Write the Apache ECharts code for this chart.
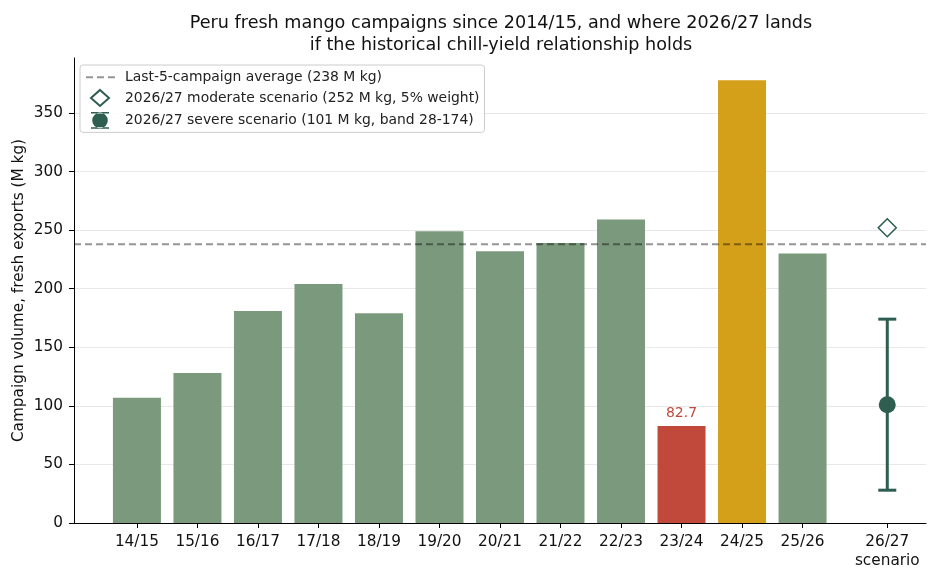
<!DOCTYPE html>
<html lang="en">

<head>
  <meta charset="UTF-8">
  <script type="text/javascript" src="https://cdn.jsdelivr.net/npm/echarts@6/dist/echarts.min.js"></script>
  <title>Peru mango campaigns</title>
  <style>
    html,
    body {
      margin: 0;
      background: #fff;
    }

    #chart {
      width: 936px;
      height: 582px;
    }
  </style>
</head>

<body>
  <div id="chart"></div>

  <script type="text/javascript">
    // campaign data (M kg)
    var campaigns = ['14/15', '15/16', '16/17', '17/18', '18/19', '19/20', '20/21', '21/22', '22/23', '23/24', '24/25', '25/26'];
    var volumes = [107, 128, 181, 204, 179, 249, 232, 239, 259, 82.7, 378, 230];
    var lowYear = '23/24';
    var highYear = '24/25';

    var avgLast5 = 238;
    var scenarioX = 12.4;
    var scenarioLabel = '26/27\nscenario';
    var moderate = 252;
    var severe = 101;
    var severeBand = [28, 174];

    var GREEN = '#7b9a7d';
    var RED = '#c0493b';
    var GOLD = '#d4a01a';
    var DARK = '#2d5e4f';

    var X_MIN = -1.04, X_MAX = 13.04;

    var NAME_AVG = 'Last-5-campaign average (238 M kg)';
    var NAME_MOD = '2026/27 moderate scenario (252 M kg, 5% weight)';
    var NAME_SEV = '2026/27 severe scenario (101 M kg, band 28-174)';

    var dom = document.getElementById('chart');
    var myChart = echarts.init(dom, null, { renderer: 'canvas' });

    var barData = campaigns.map(function (c, i) {
      var item = { value: [i, volumes[i]] };
      if (c === lowYear) {
        item.itemStyle = { color: RED };
        item.label = {
          show: true, position: 'top', distance: 6, color: RED, fontSize: 14,
          formatter: function (p) { return p.value[1].toFixed(1); }
        };
      } else if (c === highYear) {
        item.itemStyle = { color: GOLD };
      }
      return item;
    });

    var tickPositions = campaigns.map(function (c, i) { return i; }).concat([scenarioX]);
    function xLabel(v) {
      if (Math.abs(v - scenarioX) < 1e-6) return scenarioLabel;
      return campaigns[Math.round(v)];
    }

    var option = {
      animation: false,
      textStyle: { fontFamily: 'DejaVu Sans' },
      title: {
        text: 'Peru fresh mango campaigns since 2014/15, and where 2026/27 lands\nif the historical chill-yield relationship holds',
        left: 496,
        top: 7,
        textAlign: 'center',
        textStyle: { fontSize: 17.6, fontWeight: 'normal', color: '#111', lineHeight: 22, fontFamily: 'DejaVu Sans' }
      },
      legend: {
        orient: 'vertical',
        left: 80,
        top: 65,
        padding: [5, 5, 3, 5],
        itemGap: 3.5,
        itemWidth: 32,
        itemHeight: 18,
        borderColor: '#cccccc',
        borderWidth: 1,
        borderRadius: 3,
        backgroundColor: 'rgba(255,255,255,0.85)',
        textStyle: { fontSize: 13.9, color: '#222', fontFamily: 'DejaVu Sans', padding: [0, 0, 0, 2] },
        data: [
          { name: NAME_AVG, itemStyle: { opacity: 0 } },
          { name: NAME_MOD, icon: 'path://M0,0M32,18M14,1L23,9L14,17L5,9Z' },
          { name: NAME_SEV, icon: 'path://M0,0M32,18M5,0.6h18v1.6h-18zM5,15.8h18v1.6h-18zM14,1.2a7.8,7.8 0 1,0 0.01,0z' }
        ]
      },
      grid: { left: 74, right: 10, top: 58, bottom: 59 },
      xAxis: {
        type: 'value',
        min: X_MIN,
        max: X_MAX,
        splitLine: { show: false },
        axisLine: { show: true, onZero: false, lineStyle: { color: '#000', width: 1 } },
        axisTick: { show: true, customValues: tickPositions, length: 5, lineStyle: { color: '#000' } },
        axisLabel: {
          customValues: tickPositions, formatter: xLabel, color: '#111', fontSize: 15.3,
          margin: 10, lineHeight: 19, showMinLabel: true, showMaxLabel: true
        }
      },
      yAxis: {
        type: 'value',
        min: 0,
        max: 396.9,
        interval: 50,
        name: 'Campaign volume, fresh exports (M kg)',
        nameLocation: 'middle',
        nameGap: 47,
        nameMoveOverlap: false,
        nameTextStyle: { fontSize: 15.3, color: '#111' },
        axisLine: { show: true, onZero: false, lineStyle: { color: '#000', width: 1 } },
        axisTick: { show: true, length: 5, lineStyle: { color: '#000' } },
        axisLabel: { color: '#111', fontSize: 15.3, margin: 11, showMaxLabel: false },
        splitLine: { show: true, showMaxLine: false, lineStyle: { color: '#e8e8e8', width: 1 } }
      },
      series: [
        {
          type: 'bar',
          name: 'campaigns',
          data: barData,
          barWidth: 48,
          itemStyle: { color: GREEN },
          z: 2
        },
        {
          type: 'line',
          name: NAME_AVG,
          data: [[X_MIN, avgLast5], [X_MAX, avgLast5]],
          symbol: 'none',
          lineStyle: { color: 'rgba(0,0,0,0.42)', width: 2, type: [7, 4] },
          itemStyle: { color: 'rgba(0,0,0,0.42)' },
          z: 4,
          silent: true
        },
        {
          type: 'custom',
          name: 'band',
          data: [[scenarioX, severeBand[0], severeBand[1]]],
          renderItem: function (params, api) {
            var lo = api.coord([api.value(0), api.value(1)]);
            var hi = api.coord([api.value(0), api.value(2)]);
            var cap = 9;
            var style = { stroke: DARK, lineWidth: 3 };
            return {
              type: 'group',
              children: [
                { type: 'line', shape: { x1: lo[0], y1: lo[1], x2: hi[0], y2: hi[1] }, style: style },
                { type: 'line', shape: { x1: lo[0] - cap, y1: lo[1], x2: lo[0] + cap, y2: lo[1] }, style: style },
                { type: 'line', shape: { x1: hi[0] - cap, y1: hi[1], x2: hi[0] + cap, y2: hi[1] }, style: style }
              ]
            };
          },
          z: 5
        },
        {
          type: 'scatter',
          name: NAME_MOD,
          data: [[scenarioX, moderate]],
          symbol: 'diamond',
          symbolSize: [18, 18],
          itemStyle: { color: '#fff', borderColor: DARK, borderWidth: 1.5, opacity: 1 },
          z: 6
        },
        {
          type: 'scatter',
          name: NAME_SEV,
          data: [[scenarioX, severe]],
          symbol: 'circle',
          symbolSize: 17,
          itemStyle: { color: DARK, opacity: 1 },
          z: 6
        }
      ]
    };

    myChart.setOption(option);
    window.addEventListener('resize', myChart.resize);
  </script>
</body>

</html>
